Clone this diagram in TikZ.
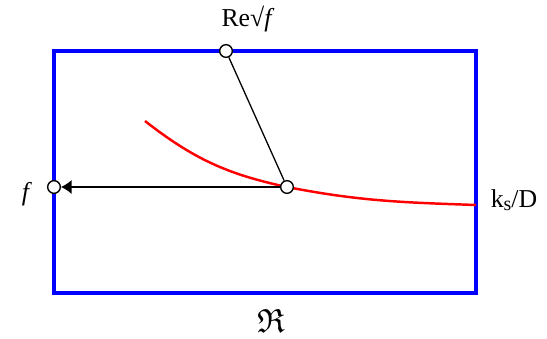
\documentclass[tikz,border=0pt]{standalone}
\usepackage{amssymb}
\usepackage{fontspec}
\setmainfont{Liberation Serif}
\usetikzlibrary{arrows.meta}

\begin{document}
\begin{tikzpicture}[x=0.03cm, y=-0.03cm, font=\fontsize{22}{25}\selectfont,
            joint/.style = {draw, circle, fill=white, line width=1.2pt, minimum size=0.38cm, inner sep=0pt}]
            \useasboundingbox (0,0) rectangle (547,339);
            \draw[blue, line width=2.6pt] (54,51) rectangle (476,293);

            \coordinate (M) at (287,187);
            \coordinate (C0) at (145,121);
            \coordinate (C1) at (476,205);
            \draw[red, line width=2.1pt] (C0) to[out=-38, in=168] (M) to[out=-11, in=178] (C1);

            \node[joint] (mid) at (M) {};
            \node[joint] (top) at (226,51) {};
            \node[joint] (left) at (54,187) {};

            \node (lre) at (248,19) {Re√\textit{f}};
            \node (lf) at (27,194) {\textit{f}};
            \node (lks) at (514,200) {k\raisebox{-0.3ex}{\fontsize{17}{19}\selectfont s}/D};
            \node[scale=1.3] (lr) at (271,321) {$\mathfrak{R}$};

            \draw[line width=1.1pt] (mid) -- (top);
            \path[-{Latex[length=9pt, width=12pt]}, line width=1.1pt] (mid) edge (left);
        \end{tikzpicture}
\end{document}
